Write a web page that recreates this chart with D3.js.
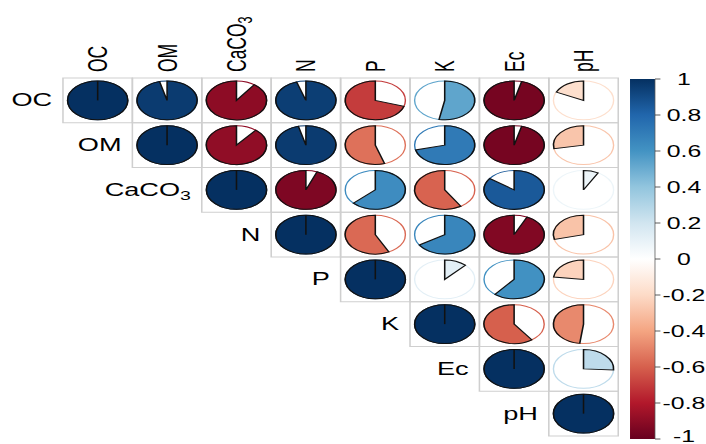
<!DOCTYPE html>
<html>
<head>
<meta charset="utf-8">
<script src="https://cdn.jsdelivr.net/npm/d3@7"></script>
<style>
html,body{margin:0;padding:0;background:#fff;}
svg{display:block;}
</style>
</head>
<body>
<svg id="chart"></svg>
<script>
// ---- data ----
const vars = ["OC", "OM", "CaCO3", "N", "P", "K", "Ec", "pH"];
// upper-triangle correlations, each row starts at its diagonal
const corrOC    = [1, 0.96, -0.90, 0.95, -0.70, 0.53, -0.96, -0.18];
const corrOM    = [1, -0.89, 0.96, -0.55, 0.71, -0.96, -0.28];
const corrCaCO3 = [1, -0.94, 0.63, -0.59, 0.85, 0.08];
const corrN     = [1, -0.575, 0.66, -0.93, -0.29];
const corrP     = [1, 0.12, 0.61, -0.23];
const corrK     = [1, -0.60, -0.48];
const corrEc    = [1, 0.26];
const corrPH    = [1];
const legendTicks  = [1, 0.8, 0.6, 0.4, 0.2, 0, -0.2, -0.4, -0.6, -0.8, -1];
const legendLabels = ["1", "0.8", "0.6", "0.4", "0.2", "0", "-0.2", "-0.4", "-0.6", "-0.8", "-1"];
const paletteRdBu = ["#67001F", "#B2182B", "#D6604D", "#F4A582", "#FDDBC7", "#FFFFFF",
                     "#D1E5F0", "#92C5DE", "#4393C3", "#2166AC", "#053061"];

const rows = [corrOC, corrOM, corrCaCO3, corrN, corrP, corrK, corrEc, corrPH];
const cells = [];
rows.forEach((row, i) => row.forEach((v, k) => cells.push({row: vars[i], col: vars[i + k], v})));

// ---- layout (drawn in a square-cell frame, stretched horizontally like the reference) ----
const W = 706, H = 444, sx = 1.551;
const W0 = W / sx;
const cell = 44.75, gx0 = 40.6, gy0 = 78;
const rad = 19.4;
const font = "'Liberation Sans', Arial, sans-serif";

const svg = d3.select("#chart")
  .attr("width", W).attr("height", H)
  .attr("viewBox", `0 0 ${W0} ${H}`)
  .attr("preserveAspectRatio", "none");

svg.append("rect").attr("width", W0).attr("height", H).attr("fill", "#fff");

const x = d3.scaleBand().domain(vars).range([gx0, gx0 + cell * vars.length]);
const y = d3.scaleBand().domain(vars).range([gy0, gy0 + cell * vars.length]);
const color = d3.scaleLinear()
  .domain(d3.range(paletteRdBu.length).map(i => -1 + 2 * i / (paletteRdBu.length - 1)))
  .range(paletteRdBu);

// grid
svg.append("g").selectAll("rect").data(cells).join("rect")
  .attr("x", d => x(d.col))
  .attr("y", d => y(d.row))
  .attr("width", cell).attr("height", cell)
  .attr("fill", "none").attr("stroke", "#cfcfcf").attr("stroke-width", 1);

const arc = d3.arc().innerRadius(0).outerRadius(rad);
const g = svg.append("g").selectAll("g").data(cells).join("g")
  .attr("transform", d => `translate(${x(d.col) + cell / 2},${y(d.row) + cell / 2})`);

// outline circle in the value colour
g.append("circle").attr("r", rad)
  .attr("fill", "none").attr("stroke", d => color(d.v)).attr("stroke-width", 0.9);
// pie wedge
g.append("path")
  .attr("d", d => d.v >= 0 ? arc({startAngle: 0, endAngle: 2 * Math.PI * d.v})
                           : arc({startAngle: 2 * Math.PI * d.v, endAngle: 0}))
  .attr("fill", d => color(d.v)).attr("stroke", "#111").attr("stroke-width", 1);
// radius line for full pies
g.filter(d => Math.abs(d.v) >= 0.999).append("line")
  .attr("x1", 0).attr("y1", 0).attr("x2", 0).attr("y2", -rad)
  .attr("stroke", "#111").attr("stroke-width", 1);

// labels helper (with subscript for CaCO3)
function writeLabel(sel, name) {
  if (name === "CaCO3") {
    sel.append("tspan").text("CaCO");
    sel.append("tspan").text("3").attr("font-size", "72%").attr("dy", "0.45em");
  } else sel.text(name);
}

// row labels
svg.append("g").selectAll("text").data(vars).join("text")
  .attr("x", d => x(d) - 7)
  .attr("y", d => y(d) + cell / 2)
  .attr("text-anchor", "end").attr("dominant-baseline", "central")
  .attr("font-family", font).attr("font-size", 17.5).attr("fill", "#000")
  .each(function(d) { writeLabel(d3.select(this), d); });

// column labels
svg.append("g").selectAll("text").data(vars).join("text")
  .attr("transform", d => `translate(${x(d) + cell / 2},${gy0 - 6}) rotate(-90)`)
  .attr("text-anchor", "start").attr("dominant-baseline", "central")
  .attr("font-family", font).attr("font-size", 17.5).attr("fill", "#000")
  .each(function(d) { writeLabel(d3.select(this), d); });

// colour legend
const lx0 = 406.2, lx1 = 422.3, ly0 = 79, ly1 = 439;
const ly = d3.scaleLinear().domain([1, -1]).range([ly0, ly1]);
const grad = svg.append("defs").append("linearGradient")
  .attr("id", "cbar").attr("x1", 0).attr("x2", 0).attr("y1", 0).attr("y2", 1);
paletteRdBu.slice().reverse().forEach((c, i) =>
  grad.append("stop").attr("offset", i / (paletteRdBu.length - 1)).attr("stop-color", c));
svg.append("rect").attr("x", lx0).attr("y", ly0).attr("width", lx1 - lx0).attr("height", ly1 - ly0)
  .attr("fill", "url(#cbar)");
svg.append("line").attr("x1", lx1).attr("x2", lx1).attr("y1", ly0).attr("y2", ly1)
  .attr("stroke", "#555").attr("stroke-width", 0.6);
svg.append("g").selectAll("line").data(legendTicks).join("line")
  .attr("x1", lx1).attr("x2", lx1 + 3.5).attr("y1", d => ly(d)).attr("y2", d => ly(d))
  .attr("stroke", "#333").attr("stroke-width", 0.8);
svg.append("g").selectAll("text").data(legendTicks).join("text")
  .attr("x", 441).attr("y", d => Math.min(ly(d), H - 8))
  .attr("text-anchor", "middle").attr("dominant-baseline", "central")
  .attr("font-family", font).attr("font-size", 16).attr("fill", "#000")
  .text((d, i) => legendLabels[i]);
</script>
</body>
</html>
